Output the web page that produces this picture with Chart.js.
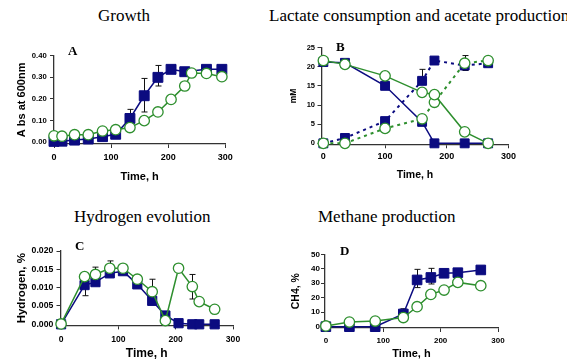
<!DOCTYPE html>
<html>
<head>
<meta charset="utf-8">
<script src="https://cdn.jsdelivr.net/npm/chart.js@4.4.0/dist/chart.umd.min.js"></script>
<style>
  body { margin: 0; background: #fff; }
  #page { position: relative; width: 567px; height: 361px; overflow: hidden; background: #fff; }
  canvas { position: absolute; }
  .ttl { position: absolute; font-family: "Liberation Serif", "Times New Roman", serif; font-size: 17px; line-height: 17px; white-space: nowrap; color: #000; }
  .let { position: absolute; font-family: "Liberation Serif", "Times New Roman", serif; font-weight: bold; font-size: 13px; line-height: 13px; color: #000; }
</style>
</head>
<body>
<div id="page">
  <div class="ttl" style="left:98px; top:7px;">Growth</div>
  <div class="ttl" style="left:269px; top:7px;">Lactate consumption and acetate production</div>
  <div class="ttl" style="left:74px; top:208px;">Hydrogen evolution</div>
  <div class="ttl" style="left:318px; top:208px;">Methane production</div>
  <canvas id="chartA"></canvas>
  <canvas id="chartB"></canvas>
  <canvas id="chartC"></canvas>
  <canvas id="chartD"></canvas>
  <div class="let" style="left:68px; top:44px;">A</div>
  <div class="let" style="left:336px; top:40px;">B</div>
  <div class="let" style="left:75px; top:239px;">C</div>
  <div class="let" style="left:340px; top:244px;">D</div>
</div>
<script>
// ---- data ----
const xTicks = [0, 100, 200, 300]

// A: growth (absorbance at 600 nm)
const timeA_blue = [0, 14, 36, 60, 85, 108, 133, 158, 182, 205, 229, 267, 294]
const absA_blue = [0.004, 0.005, 0.01, 0.015, 0.026, 0.037, 0.11, 0.215, 0.30, 0.337, 0.326, 0.337, 0.337]
const timeA_green = [0, 14, 36, 60, 85, 108, 133, 158, 182, 205, 229, 241, 267, 294]
const absA_green = [0.03, 0.028, 0.035, 0.035, 0.052, 0.058, 0.068, 0.10, 0.14, 0.198, 0.26, 0.32, 0.318, 0.303]
const errA_blue = [[133, 0.11, 0.152], [158, 0.14, 0.295], [182, 0.26, 0.355]]
const yTicksA = [0, 0.1, 0.2, 0.3, 0.4]

// B: lactate (solid) and acetate (dotted), mM
const timeB = [0, 35, 100, 160, 180, 229, 267]
const lactB_blue = [21.2, 21.0, 15.0, 5.6, 0, 0, 0]
const acetB_blue = [0, 1.4, 5.8, 16.3, 21.6, 20.3, 20.9]
const lactB_green = [21.6, 20.6, 17.6, 13.3, 12.7, 3.0, 0]
const acetB_green = [0, 0, 3.9, 6.4, 10.7, 20.9, 21.6]
const errB = [[35, 19.7, 21.0], [160, 16.3, 19.3], [229, 19.0, 22.9]]
const yTicksB = [0, 5, 10, 15, 20, 25]

// C: hydrogen, %
const timeC = [0, 41, 60, 85, 108, 133, 159, 182, 205, 229, 241, 268]
const h2C_blue = [0, 0.0107, 0.0115, 0.0139, 0.0145, 0.0109, 0.0064, 0.0024, 0.0003, 0, 0, 0]
const h2C_green = [0.0001, 0.013, 0.0136, 0.0153, 0.0153, 0.0123, 0.0089, 0.001, 0.0153, 0.0103, 0.0062, 0.0041]
const errC = [[41, 0.0078, 0.0107], [60, 0.0136, 0.0156], [85, 0.0153, 0.0173], [159, 0.0089, 0.0123], [229, 0.0069, 0.0136]]
const yTicksC = [0, 0.005, 0.01, 0.015, 0.02]

// D: methane, %
const timeD = [0, 41, 86, 135, 159, 183, 206, 230, 270]
const ch4D_blue = [0, 0, 0, 8.8, 32.3, 34, 36.9, 37.3, 39.2]
const ch4D_green = [0.5, 3.2, 3.9, 6.3, 13.8, 22.3, 25.3, 30.6, 28.3]
const errD = [[135, 8.8, 12.4], [159, 27, 39.6], [183, 29.5, 40.3]]
const yTicksD = [0, 10, 20, 30, 40, 50]

// ---- drawing ----
const blue = '#0b0b80'
const green = '#2e8f2e'
const axisColor = '#333'
Chart.defaults.font.family = '"Liberation Sans", Arial, sans-serif'
Chart.defaults.color = '#000'

const errorBars = {
  id: 'errorBars',
  beforeDatasetsDraw(chart, args, opts) {
    const ctx = chart.ctx
    const x = chart.scales.x, y = chart.scales.y
    ctx.save()
    ctx.strokeStyle = '#111'
    ctx.lineWidth = 1
    ;(opts.bars || []).forEach(([t, lo, hi]) => {
      const px = Math.round(x.getPixelForValue(t)) + 0.5
      const p1 = y.getPixelForValue(lo), p2 = y.getPixelForValue(hi)
      ctx.beginPath()
      ctx.moveTo(px, p1); ctx.lineTo(px, p2)
      ctx.moveTo(px - 3, p1); ctx.lineTo(px + 3, p1)
      ctx.moveTo(px - 3, p2); ctx.lineTo(px + 3, p2)
      ctx.stroke()
    })
    ctx.restore()
  }
}

function pts(xs, ys) {
  return xs.map((x, i) => ({x: x, y: ys[i]}))
}

function squares(data, r, dash) {
  return {
    data: data, borderColor: blue, backgroundColor: blue,
    pointStyle: 'rect', pointRadius: r, pointBorderWidth: 1,
    pointBackgroundColor: blue, pointBorderColor: blue,
    borderWidth: dash ? 2 : 1.5, borderDash: dash || [],
    order: 2, clip: false, tension: 0
  }
}

function circles(data, dash) {
  return {
    data: data, borderColor: green, backgroundColor: '#fff',
    pointStyle: 'circle', pointRadius: 5.2, pointBorderWidth: 1.3,
    pointBackgroundColor: '#fff', pointBorderColor: green,
    borderWidth: dash ? 2 : 1.5, borderDash: dash || [],
    order: 1, clip: false, tension: 0
  }
}

function panel(id, p) {
  const canvas = document.getElementById(id)
  canvas.width = p.box.w
  canvas.height = p.box.h
  canvas.style.left = p.box.x + 'px'
  canvas.style.top = p.box.y + 'px'
  const padLeft = p.yTitleX - p.yTitleSize * 0.6 - p.box.x
  const padBottom = p.box.y + p.box.h - p.xTitleY - p.xTitleSize * 0.6
  const a = p.area

  new Chart(canvas, {
    type: 'line',
    data: {datasets: p.datasets},
    options: {
      responsive: false,
      animation: false,
      events: [],
      layout: {
        autoPadding: false,
        padding: {left: padLeft, top: a.t - p.box.y, right: p.box.x + p.box.w - a.r, bottom: padBottom}
      },
      plugins: {legend: {display: false}, tooltip: {enabled: false}, errorBars: {bars: p.errors}},
      scales: {
        x: {
          type: 'linear', min: p.xMin, max: 300,
          afterBuildTicks: s => { s.ticks = xTicks.map(v => ({value: v})) },
          afterFit: s => { s.height = p.box.y + p.box.h - padBottom - a.b; s.paddingLeft = 0; s.paddingRight = 0 },
          border: {color: axisColor, width: 1.3},
          grid: {drawOnChartArea: false, color: axisColor, tickLength: 4, tickWidth: 1},
          ticks: {font: {size: p.xTickSize, weight: 'bold'}, padding: p.xTickGap - 4, maxRotation: 0, autoSkip: false},
          title: {display: true, text: 'Time, h', font: {size: p.xTitleSize, weight: 'bold'}, padding: 0}
        },
        y: {
          type: 'linear', min: p.yMin, max: p.yMax,
          afterBuildTicks: s => { s.ticks = p.yTicks.map(v => ({value: v})) },
          afterFit: s => { s.width = a.l - p.box.x - padLeft; s.paddingTop = 0; s.paddingBottom = 0 },
          border: {color: axisColor, width: 1.3},
          grid: {drawOnChartArea: false, color: axisColor, tickLength: 4, tickWidth: 1},
          ticks: {font: {size: p.yTickSize, weight: 'bold'}, padding: p.yTickGap - 4, autoSkip: false,
                  callback: v => v.toFixed(p.dec)},
          title: {display: true, text: p.yTitle, font: {size: p.yTitleSize, weight: 'bold'}, padding: 0}
        }
      }
    },
    plugins: [errorBars]
  })
}

panel('chartA', {
  box: {x: 0, y: 30, w: 240, h: 160}, area: {l: 54, t: 55.7, r: 225.3, b: 144},
  xMin: 0, yMin: -0.008, yMax: 0.4, yTicks: yTicksA, dec: 2,
  yTitle: 'A bs at 600nm', yTitleSize: 11, yTitleX: 21.5,
  xTitleSize: 11, xTitleY: 177, yTickSize: 7.7, xTickSize: 9, yTickGap: 7.3, xTickGap: 8.6,
  errors: errA_blue,
  datasets: [squares(pts(timeA_blue, absA_blue), 7), circles(pts(timeA_green, absA_green))]
})

panel('chartB', {
  box: {x: 255, y: 30, w: 312, h: 160}, area: {l: 321.5, t: 47.5, r: 508.5, b: 144.3},
  xMin: -3, yMin: -0.25, yMax: 25, yTicks: yTicksB, dec: 0,
  yTitle: 'mM', yTitleSize: 8.5, yTitleX: 294,
  xTitleSize: 10.5, xTitleY: 175.5, yTickSize: 7.5, xTickSize: 9, yTickGap: 6.5, xTickGap: 7.3,
  errors: errB,
  datasets: [
    squares(pts(timeB, lactB_blue), 6.3),
    squares(pts(timeB, acetB_blue), 6.3, [3, 4]),
    circles(pts(timeB, lactB_green)),
    circles(pts(timeB, acetB_green), [3, 4])
  ]
})

panel('chartC', {
  box: {x: 0, y: 230, w: 240, h: 131}, area: {l: 60.5, t: 251, r: 233, b: 325.4},
  xMin: -1, yMin: -0.0003, yMax: 0.02, yTicks: yTicksC, dec: 3,
  yTitle: 'Hydrogen, %', yTitleSize: 11.5, yTitleX: 21.5,
  xTitleSize: 12, xTitleY: 353.5, yTickSize: 8.7, xTickSize: 8.6, yTickGap: 7.2, xTickGap: 8.7,
  errors: errC,
  datasets: [squares(pts(timeC, h2C_blue), 6.5), circles(pts(timeC, h2C_green))]
})

panel('chartD', {
  box: {x: 270, y: 230, w: 297, h: 131}, area: {l: 325, t: 254.3, r: 498, b: 328},
  xMin: -1.5, yMin: -0.9, yMax: 50, yTicks: yTicksD, dec: 0,
  yTitle: 'CH4, %', yTitleSize: 10.5, yTitleX: 296,
  xTitleSize: 11, xTitleY: 353.5, yTickSize: 8, xTickSize: 8, yTickGap: 5, xTickGap: 8.2,
  errors: errD,
  datasets: [squares(pts(timeD, ch4D_blue), 6.8), circles(pts(timeD, ch4D_green))]
})
</script>
</body>
</html>
